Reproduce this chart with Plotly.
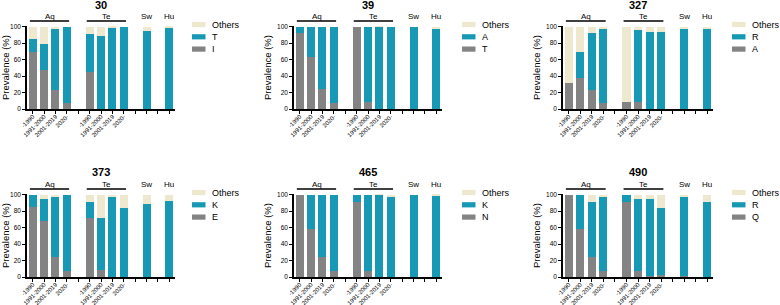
import plotly.graph_objects as go

# ---- data ----
periods = ["-1990", "1991-2000", "2001-2019", "2020-"]
groups = ["Aq", "Te", "Sw", "Hu"]
bar_positions = [0, 1, 2, 3, 5, 6, 7, 8, 10, 12]
tick_labels = periods + [""] + periods + ["", "", "", ""]

panel_titles = ["30", "39", "327", "373", "465", "490"]
grey_labels = ["I", "T", "A", "E", "N", "Q"]
teal_labels = ["T", "A", "R", "K", "K", "R"]

grey_30 = [69, 47, 23, 7, 45, 0, 0, 0, 0, 0]
teal_30 = [16, 32, 75, 93, 46, 89, 99, 100, 95, 98.5]
others_30 = [15, 21, 2, 0, 9, 11, 1, 0, 5, 1.5]

grey_39 = [92, 63, 24, 7, 100, 8, 0, 0, 0, 0]
teal_39 = [8, 37, 76, 93, 0, 92, 99.5, 100, 100, 97]
others_39 = [0, 0, 0, 0, 0, 0, 0.5, 0, 0, 3]

grey_327 = [31, 37, 23, 7, 9, 8, 0, 0, 0, 0]
teal_327 = [0, 32, 69, 90, 0, 88, 93, 93, 98, 97]
others_327 = [69, 31, 8, 3, 91, 4, 7, 7, 2, 3]

grey_373 = [85, 68, 24, 7, 72, 8, 0, 0, 0, 0]
teal_373 = [15, 27, 73, 93, 19, 63, 98, 84, 89, 92]
others_373 = [0, 5, 3, 0, 9, 29, 2, 16, 11, 8]

grey_465 = [100, 58, 24, 7, 91, 7, 0, 0, 0, 0]
teal_465 = [0, 42, 76, 93, 9, 93, 99.5, 97, 100, 98.5]
others_465 = [0, 0, 0, 0, 0, 0, 0.5, 3, 0, 1.5]

grey_490 = [100, 58, 24, 7, 91, 7, 1, 3, 1, 0]
teal_490 = [0, 42, 67, 90, 9, 88, 94, 81, 97, 91]
others_490 = [0, 0, 9, 3, 0, 5, 5, 16, 2, 9]

grey_values = [grey_30, grey_39, grey_327, grey_373, grey_465, grey_490]
teal_values = [teal_30, teal_39, teal_327, teal_373, teal_465, teal_490]
others_values = [others_30, others_39, others_327, others_373, others_465, others_490]

# ---- style ----
W, H = 780, 305
GREY = "#838383"
TEAL = "#1798B4"
BEIGE = "#EEE8CE"
FONT = "Arial, 'Liberation Sans', sans-serif"

col_px = [(27, 175), (294, 442), (563, 713)]
row_px = [(26, 109), (194, 277)]
title_off = [21, 22]
legend_px = [192, 462, 732]

def fx(px):
    return px / W

def fy(py):
    return 1 - py / H

fig = go.Figure()
layout = dict(
    width=W, height=H, margin=dict(l=0, r=0, t=0, b=0, autoexpand=False),
    paper_bgcolor="white", plot_bgcolor="white",
    barmode="stack", bargap=0.3, showlegend=False,
    font=dict(family=FONT, color="black"),
)
annotations = []
shapes = []

for i in range(6):
    r, c = divmod(i, 3)
    suffix = "" if i == 0 else str(i + 1)
    xa, ya = "x" + suffix, "y" + suffix
    x0, x1 = col_px[c]
    y0, y1 = row_px[r]

    for vals, name, color in [
        (grey_values[i], grey_labels[i], GREY),
        (teal_values[i], teal_labels[i], TEAL),
        (others_values[i], "Others", BEIGE),
    ]:
        fig.add_trace(go.Bar(
            x=bar_positions, y=vals, name=name, xaxis=xa, yaxis=ya,
            marker=dict(color=color, line=dict(width=0)), width=0.7,
        ))

    layout["xaxis" + suffix] = dict(
        domain=[fx(x0), fx(x1)], anchor=ya, range=[-0.5, 12.5], automargin=False,
        tickmode="array", tickvals=list(range(13)), ticktext=tick_labels,
        tickangle=-45, tickfont=dict(size=6, family=FONT, color="black"),
        ticklabelstandoff=-3,
        ticks="outside", ticklen=3, tickwidth=1.3, tickcolor="black",
        showline=True, linecolor="black", linewidth=1.8,
        showgrid=False, zeroline=False,
    )
    layout["yaxis" + suffix] = dict(
        domain=[fy(y1), fy(y0)], anchor=xa, range=[0, 100.6], automargin=False,
        tickvals=[0, 20, 40, 60, 80, 100], tickfont=dict(size=6.5, family=FONT, color="black"),
        ticks="outside", ticklen=3, tickwidth=1.3, tickcolor="black",
        showline=True, linecolor="black", linewidth=1.5,
        showgrid=False, zeroline=False,
        title=dict(text="Prevalence (%)", font=dict(size=9.5, family=FONT), standoff=4),
    )

    # panel title
    annotations.append(dict(
        text="<b>%s</b>" % panel_titles[i], xref="paper", yref="paper",
        x=fx((x0 + x1) / 2), y=fy(y0 - title_off[r]), xanchor="center", yanchor="middle",
        showarrow=False, font=dict(size=11, family=FONT),
    ))
    # group labels
    group_centers = [1.5, 6.5, 10, 12]
    for g, gx in zip(groups, group_centers):
        annotations.append(dict(
            text=g, xref=xa, yref="paper", x=gx, y=fy(y0 - 9.5),
            xanchor="center", yanchor="middle", showarrow=False,
            font=dict(size=8, family=FONT),
        ))
    for gs in (0, 5):
        shapes.append(dict(
            type="line", xref=xa, yref="paper", x0=gs - 0.25, x1=gs + 3.2,
            y0=fy(y0 - 5), y1=fy(y0 - 5), line=dict(color="black", width=1.3),
        ))

    # legend (Others, teal, grey)
    lx = legend_px[c]
    for k, (name, color) in enumerate([("Others", BEIGE), (teal_labels[i], TEAL), (grey_labels[i], GREY)]):
        cy = y0 - 1.5 + k * 12.3
        shapes.append(dict(
            type="rect", xref="paper", yref="paper",
            x0=fx(lx), x1=fx(lx + 13.5), y0=fy(cy + 2.6), y1=fy(cy - 2.6),
            fillcolor=color, line=dict(width=0),
        ))
        annotations.append(dict(
            text=name, xref="paper", yref="paper", x=fx(lx + 18), y=fy(cy),
            xanchor="left", yanchor="middle", showarrow=False,
            font=dict(size=9, family=FONT),
        ))

layout["annotations"] = annotations
layout["shapes"] = shapes
fig.update_layout(**layout)
fig.write_html("out.html")
